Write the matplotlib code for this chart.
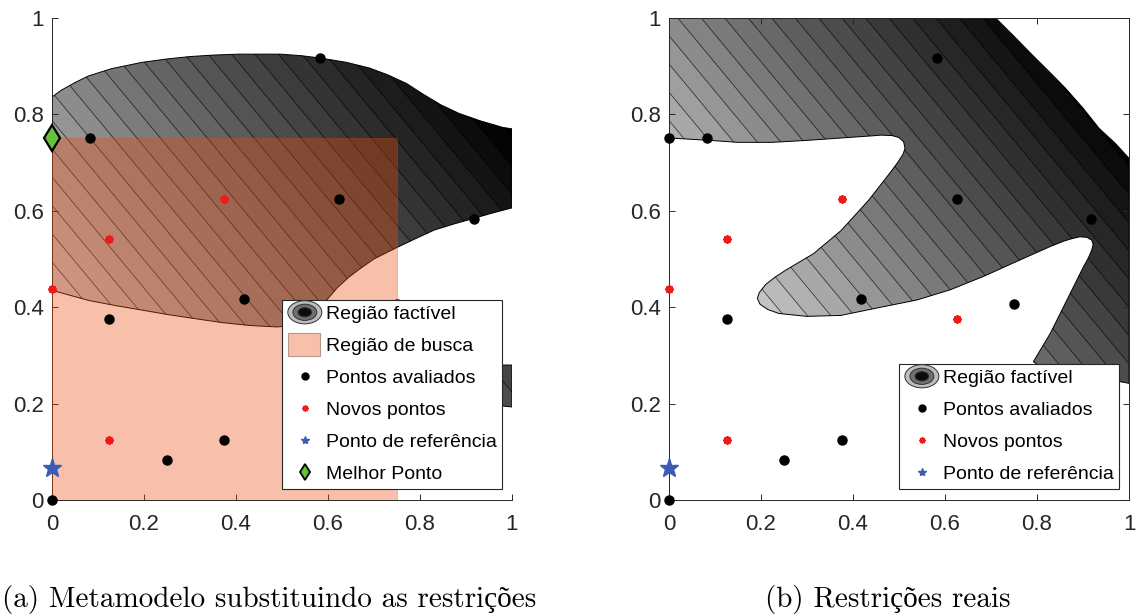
import numpy as np
import matplotlib
matplotlib.use('Agg')
import matplotlib.pyplot as plt
from matplotlib.path import Path
from matplotlib.patches import PathPatch, Rectangle, Ellipse
from matplotlib.lines import Line2D
from matplotlib.legend_handler import HandlerBase
from matplotlib.colors import Normalize

# pontos amostrados (iguais nos dois graficos)
aval_x = [0, 0, 0.0833, 0.25, 0.375, 0.125, 0.4167, 0.5833, 0.625, 0.9167, 0.75]
aval_y = [0, 0.75, 0.75, 0.0833, 0.125, 0.375, 0.4167, 0.9167, 0.625, 0.5833, 0.4062]
novos_x = [0, 0.125, 0.375, 0.125, 0.625]
novos_y = [0.4375, 0.5417, 0.625, 0.125, 0.375]
ref_x = [0]
ref_y = [0.0667]
melhor_x = [0]
melhor_y = [0.75]
busca_lim = [0.75, 0.75]

# regiao factivel do metamodelo (a)
meta_sup_x = [0, 0.02, 0.05, 0.08, 0.13, 0.196, 0.25, 0.30, 0.35, 0.406, 0.496, 0.54, 0.583,
              0.64, 0.691, 0.73, 0.771, 0.805, 0.845, 0.885, 0.93, 0.98, 1.0]
meta_sup_y = [0.836, 0.85, 0.866, 0.88, 0.895, 0.908, 0.915, 0.92, 0.923, 0.925, 0.925, 0.922,
              0.917, 0.908, 0.896, 0.882, 0.864, 0.843, 0.82, 0.802, 0.787, 0.773, 0.77]
meta_inf_x = [0, 0.08, 0.14, 0.196, 0.25, 0.313, 0.37, 0.43, 0.49, 0.525, 0.55, 0.57, 0.585,
              0.60, 0.62, 0.645, 0.67, 0.70, 0.748, 0.79, 0.831, 0.875, 0.916, 0.96, 1.0]
meta_inf_y = [0.435, 0.414, 0.403, 0.394, 0.385, 0.376, 0.368, 0.362, 0.359, 0.362, 0.37, 0.385,
              0.40, 0.418, 0.44, 0.462, 0.48, 0.50, 0.523, 0.542, 0.56, 0.573, 0.584, 0.596, 0.606]
meta_ilha_x = [0.93, 1.0, 1.0, 0.93]
meta_ilha_y = [0.28, 0.28, 0.193, 0.20]

# regiao factivel real (b), contorno fechado
real_x = [0, 0.71, 0.75, 0.79, 0.826, 0.862, 0.9, 0.935, 0.97, 1.0, 1.0, 0.9, 0.81, 0.792,
          0.829, 0.865, 0.901, 0.912, 0.919, 0.922, 0.919, 0.908, 0.893, 0.875, 0.858, 0.829,
          0.756, 0.684, 0.611, 0.539, 0.466, 0.394, 0.374, 0.299, 0.239, 0.215, 0.198, 0.192,
          0.196, 0.21, 0.23, 0.254, 0.314, 0.374, 0.434, 0.479, 0.497, 0.509, 0.513, 0.51, 0.5,
          0.485, 0.46, 0.449, 0.374, 0.299, 0.224, 0.149, 0.09, 0.037, 0]
real_y = [1.0, 1.0, 0.962, 0.923, 0.889, 0.854, 0.813, 0.771, 0.74, 0.709, 0.242, 0.26, 0.275,
          0.287, 0.346, 0.415, 0.484, 0.503, 0.519, 0.53, 0.539, 0.545, 0.546, 0.542, 0.537,
          0.526, 0.495, 0.464, 0.436, 0.415, 0.401, 0.387, 0.383, 0.381, 0.387, 0.395, 0.406,
          0.418, 0.43, 0.447, 0.462, 0.477, 0.511, 0.559, 0.622, 0.677, 0.70, 0.718, 0.73,
          0.743, 0.752, 0.756, 0.757, 0.756, 0.751, 0.746, 0.742, 0.742, 0.746, 0.749, 0.751]

ticks = [0, 0.2, 0.4, 0.6, 0.8, 1]
tick_txt = ['0', '0.2', '0.4', '0.6', '0.8', '1']
legenda_a = ['Região factível', 'Região de busca', 'Pontos avaliados', 'Novos pontos',
             'Ponto de referência', 'Melhor Ponto']
legenda_b = ['Região factível', 'Pontos avaliados', 'Novos pontos', 'Ponto de referência']
titulos = ['(a) Metamodelo substituindo as restrições', '(b) Restrições reais']

plt.rcParams['font.family'] = ['Liberation Sans', 'DejaVu Sans']
COR_EIXO = '#262626'
BUSCA_COR = (0.92, 0.29, 0.05)
ROSA = '#f8c0aa'


class HandlerContorno(HandlerBase):
    def create_artists(self, legend, orig, xd, yd, w, h, fs, trans):
        cx, cy = -xd + w / 2, -yd + h / 2
        arts = []
        for k, c in zip([1.0, 0.7, 0.4], ['#bdbdbd', '#707070', '#0c0c0c']):
            arts.append(Ellipse((cx, cy), w * k, h * 1.7 * k, facecolor=c,
                                edgecolor='#303030', lw=0.7, transform=trans))
        return arts


class HandlerCaixa(HandlerBase):
    def create_artists(self, legend, orig, xd, yd, w, h, fs, trans):
        r = Rectangle((-xd, -yd - 0.35 * h), w * 0.95, h * 1.7, facecolor=ROSA,
                      edgecolor='#b89688', lw=0.8, transform=trans)
        return [r]


def fechado(xs, ys):
    v = np.column_stack([xs, ys])
    return Path(np.vstack([v, v[:1]]), closed=True)


def campo(ax, regioes, vmin, vmax):
    # contorno de niveis em cinza, recortado pela regiao factivel
    g = np.linspace(0, 1, 301)
    X, Y = np.meshgrid(g, g)
    ang = np.deg2rad(41)
    G = np.cos(ang) * X + np.sin(ang) * Y
    niveis = np.arange(-0.6, 1.8, 0.0385)
    caminho = Path.make_compound_path(*[fechado(rx, ry) for rx, ry in regioes])
    clip = PathPatch(caminho, transform=ax.transData, facecolor='none', edgecolor='none')
    cs = ax.contourf(X, Y, G, levels=niveis, cmap='gray_r',
                     norm=Normalize(vmin=vmin, vmax=vmax), zorder=1)
    cs.set_clip_path(clip)
    cl = ax.contour(X, Y, G, levels=niveis, colors='k', linewidths=0.5, alpha=0.75, zorder=1.5)
    cl.set_clip_path(clip)
    ax.add_patch(PathPatch(caminho, facecolor='none', edgecolor='k', lw=0.7, zorder=2))


def pontos(ax):
    ax.plot(aval_x, aval_y, 'o', color='k', ms=6.5, clip_on=False, zorder=6)
    ax.plot(novos_x, novos_y, ls='none', marker=(8, 2, 0), color='#f01818', ms=6,
            mew=1.4, clip_on=False, zorder=6)
    ax.plot(ref_x, ref_y, ls='none', marker='*', color='#3b5bb5', ms=14, clip_on=False, zorder=7)


def eixos(ax, caixa):
    ax.set_xlim(0, 1)
    ax.set_ylim(0, 1)
    ax.set_xticks(ticks)
    ax.set_xticklabels(tick_txt)
    ax.set_yticks(ticks)
    ax.set_yticklabels(tick_txt)
    ax.tick_params(direction='in', length=4, width=0.7, color=COR_EIXO, labelcolor=COR_EIXO,
                   labelsize=16, top=caixa, right=caixa)
    ax.tick_params(axis='x', pad=10)
    ax.tick_params(axis='y', pad=6)
    for lado, sp in ax.spines.items():
        sp.set_color(COR_EIXO)
        sp.set_linewidth(0.7)
        if not caixa and lado in ('top', 'right'):
            sp.set_visible(False)


fig = plt.figure(figsize=(11.37, 6.16), dpi=100)
ax1 = fig.add_axes([0.0457, 0.1883, 0.4046, 0.7825])
ax2 = fig.add_axes([0.5884, 0.1883, 0.4046, 0.7825])

# (a) metamodelo
meta_x = meta_sup_x + meta_inf_x[::-1]
meta_y = meta_sup_y + meta_inf_y[::-1]
campo(ax1, [(meta_x, meta_y), (meta_ilha_x, meta_ilha_y)], 0.02, 1.25)
ax1.add_patch(Rectangle((0, 0), busca_lim[0], busca_lim[1], facecolor=BUSCA_COR + (0.35,),
                        edgecolor=BUSCA_COR + (0.35,), lw=0.6, zorder=3))
pontos(ax1)
ax1.plot(melhor_x, melhor_y, ls='none', marker='d', mfc='#66c23a', mec='k', mew=1.6, ms=13,
         clip_on=False, zorder=8)
eixos(ax1, False)

# (b) restricoes reais
campo(ax2, [(real_x, real_y)], 0.17, 1.24)
pontos(ax2)
eixos(ax2, True)

h_reg = Rectangle((0, 0), 1, 1)
h_busca = Rectangle((0, 0), 1, 1)
h_aval = Line2D([], [], ls='none', marker='o', color='k', ms=5)
h_novo = Line2D([], [], ls='none', marker=(8, 2, 0), color='#f01818', ms=4.5, mew=1.1)
h_ref = Line2D([], [], ls='none', marker='*', color='#3b5bb5', ms=6)
h_melhor = Line2D([], [], ls='none', marker='d', mfc='#66c23a', mec='k', mew=1.3, ms=8)
mapa = {h_reg: HandlerContorno(), h_busca: HandlerCaixa()}

opts = dict(loc='lower left', fontsize=14, numpoints=1, handlelength=1.75, handletextpad=0.2,
            labelspacing=0.74, borderpad=0.3, borderaxespad=0, fancybox=False,
            framealpha=1, edgecolor=COR_EIXO, handler_map=mapa)
leg1 = ax1.legend([h_reg, h_busca, h_aval, h_novo, h_ref, h_melhor], legenda_a,
                  bbox_to_anchor=(0.5, 0.023), **opts)
leg1.get_frame().set_linewidth(0.8)
leg1.set_zorder(20)
leg2 = ax2.legend([h_reg, h_aval, h_novo, h_ref], legenda_b,
                  bbox_to_anchor=(0.5, 0.023), **opts)
leg2.get_frame().set_linewidth(0.8)
leg2.set_zorder(20)

fam = ['cmr10', 'Liberation Serif']
fig.text(0.2366, 0.026, titulos[0], ha='center', va='center', fontsize=21, family=fam)
fig.text(0.781, 0.026, titulos[1], ha='center', va='center', fontsize=21, family=fam)

fig.savefig('out.png', dpi=100)
